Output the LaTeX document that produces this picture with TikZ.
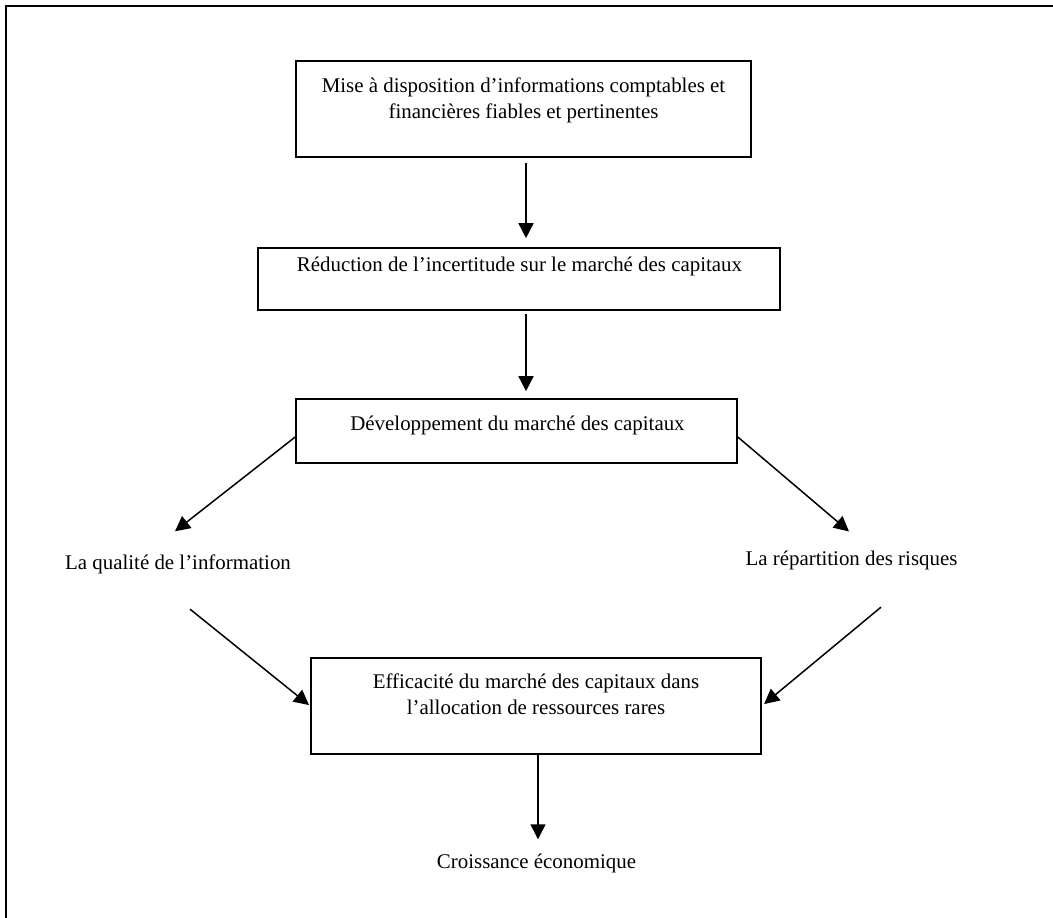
\documentclass[tikz,border=0pt]{standalone}
\usepackage{fontspec}
\setmainfont{Liberation Serif}
\usetikzlibrary{arrows.meta}
\begin{document}
\begin{tikzpicture}[x=1pt,y=-1pt,
  box/.style={draw, line width=1.6pt, inner sep=0pt},
  lbl/.style={inner sep=0pt, font=\fontsize{20.9}{26}\selectfont, align=center},
  arr/.style={line width=1.5pt, -{Triangle[length=15pt,width=15pt]}}]
\useasboundingbox (0,0) rectangle (1053,918);

% open frame: top and left rules only
\draw[line width=2.4pt] (6,918) -- (6,6) -- (1053,6);

% boxes
\node[box, minimum width=455pt, minimum height=96pt] (b1) at (523.5,109) {};
\node[box, minimum width=522pt, minimum height=62pt] (b2) at (519,279) {};
\node[box, minimum width=441pt, minimum height=64pt] (b3) at (516.5,431) {};
\node[box, minimum width=450pt, minimum height=96pt] (b4) at (536,706) {};

% texts
\node[lbl, anchor=north] (t1) at (523.5,73.6) {\strut Mise à disposition d’informations comptables et\\financières fiables et pertinentes};
\node[lbl, anchor=base] (t2) at (519.5,271) {Réduction de l’incertitude sur le marché des capitaux};
\node[lbl, anchor=base] (t3) at (517.5,430) {Développement du marché des capitaux};
\node[lbl, anchor=north] (t4) at (536,669.8) {\strut Efficacité du marché des capitaux dans\\l’allocation de ressources rares};
\node[lbl, anchor=base] (ql) at (178,569) {La qualité de l’information};
\node[lbl, anchor=base] (rp) at (851.5,565) {La répartition des risques};
\node[lbl, anchor=base] (cr) at (536.5,868) {Croissance économique};

% connectors
\coordinate (ax) at (526,0);
\coordinate (bx) at (538,0);
\draw[arr, shorten <=5pt, shorten >=9pt] (b1.south -| ax) -- (b2.north -| ax);
\draw[arr, shorten <=3pt, shorten >=7pt] (b2.south -| ax) -- (b3.north -| ax);
\draw[arr] ([yshift=-6pt]b3.west) -- ([xshift=-3pt,yshift=22.8pt]ql.north);
\draw[arr] ([yshift=-6pt]b3.east) -- ([xshift=-2.5pt,yshift=18.8pt]rp.north);
\draw[arr, shorten >=1.5pt] ([xshift=12pt,yshift=-35.5pt]ql.south) -- (b4.west);
\draw[arr, shorten >=3pt] ([xshift=29.5pt,yshift=-37.5pt]rp.south) -- (b4.east);
\draw[arr, shorten >=14pt] (b4.south -| bx) -- (cr.north -| bx);
\end{tikzpicture}
\end{document}
